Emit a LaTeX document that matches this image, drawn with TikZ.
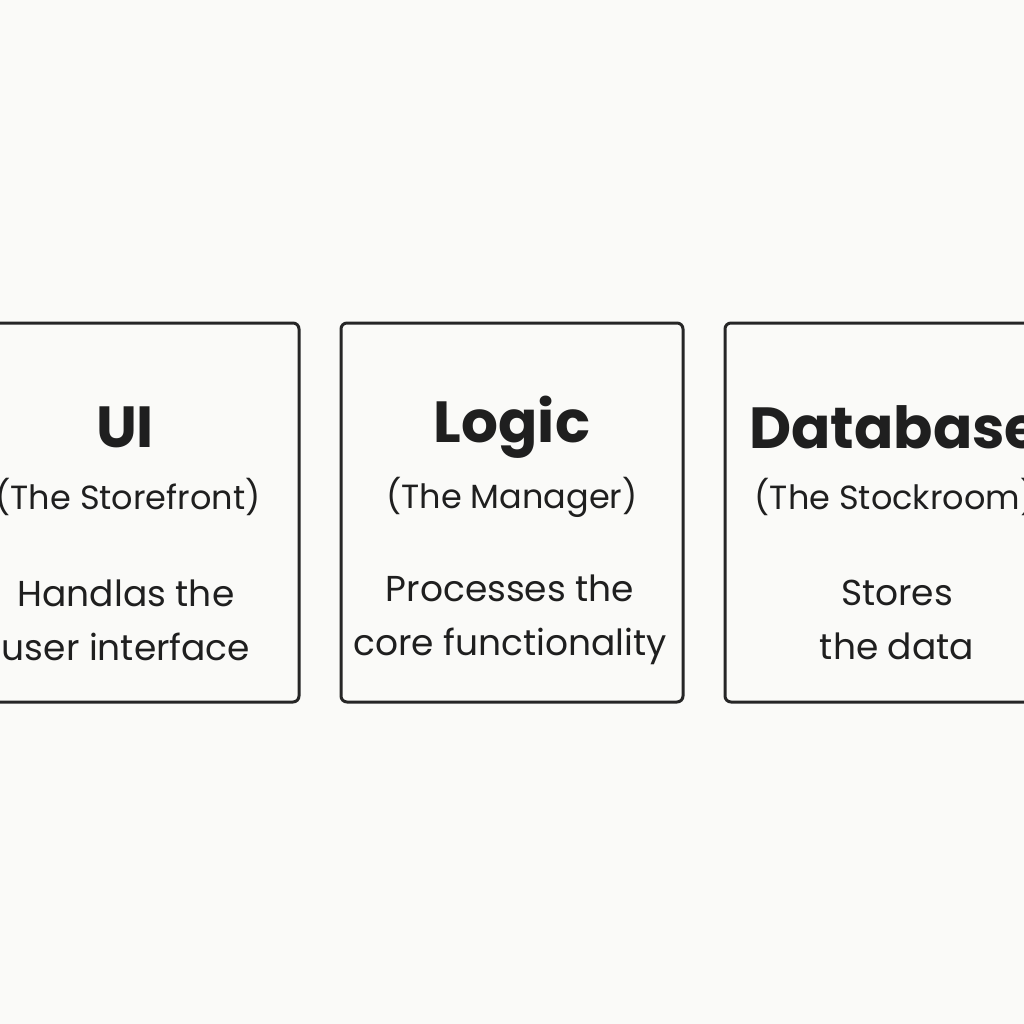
\documentclass[tikz,border=0pt]{standalone}
\usepackage{fontspec}
\setmainfont{Poppins}
\begin{document}
\begin{tikzpicture}[x=1pt,y=-1pt,
  box/.style={draw=black!85,line width=3pt,rounded corners=6pt},
  ttl/.style={font=\fontsize{58}{64}\selectfont\bfseries,text=black!88},
  sub/.style={font=\fontsize{33.5}{40}\selectfont,text=black!88},
  bdy/.style={font=\fontsize{36}{54}\selectfont,text=black!88,align=center}]
\useasboundingbox (0,0) rectangle (1024,1024);
\clip (0,0) rectangle (1024,1024);
\fill[fill={rgb,255:red,250;green,250;blue,248}] (0,0) rectangle (1024,1024);
\node[box,minimum width=320pt,minimum height=379pt] (b1) at (139,512.5) {};
\node[box,minimum width=342pt,minimum height=379pt] (b2) at (512,512.5) {};
\node[box,minimum width=330pt,minimum height=379pt] (b3) at (890,512.5) {};
\node[ttl] (t1) at (125,427) {UI};
\node[sub] (s1) at (128,497) {(The Storefront)};
\node[bdy] (d1) at (126,620) {Handlas the\\user interface};
\node[ttl] (t2) at (512,427) {Logic};
\node[sub] (s2) at (512,497) {(The Manager)};
\node[bdy] (d2) at (510,620) {Processes the\\core functionality};
\node[ttl] (t3) at (895,427) {Database};
\node[sub] (s3) at (895,497) {(The Stockroom)};
\node[bdy] (d3) at (897,620) {Stores\\the data};
\end{tikzpicture}
\end{document}
